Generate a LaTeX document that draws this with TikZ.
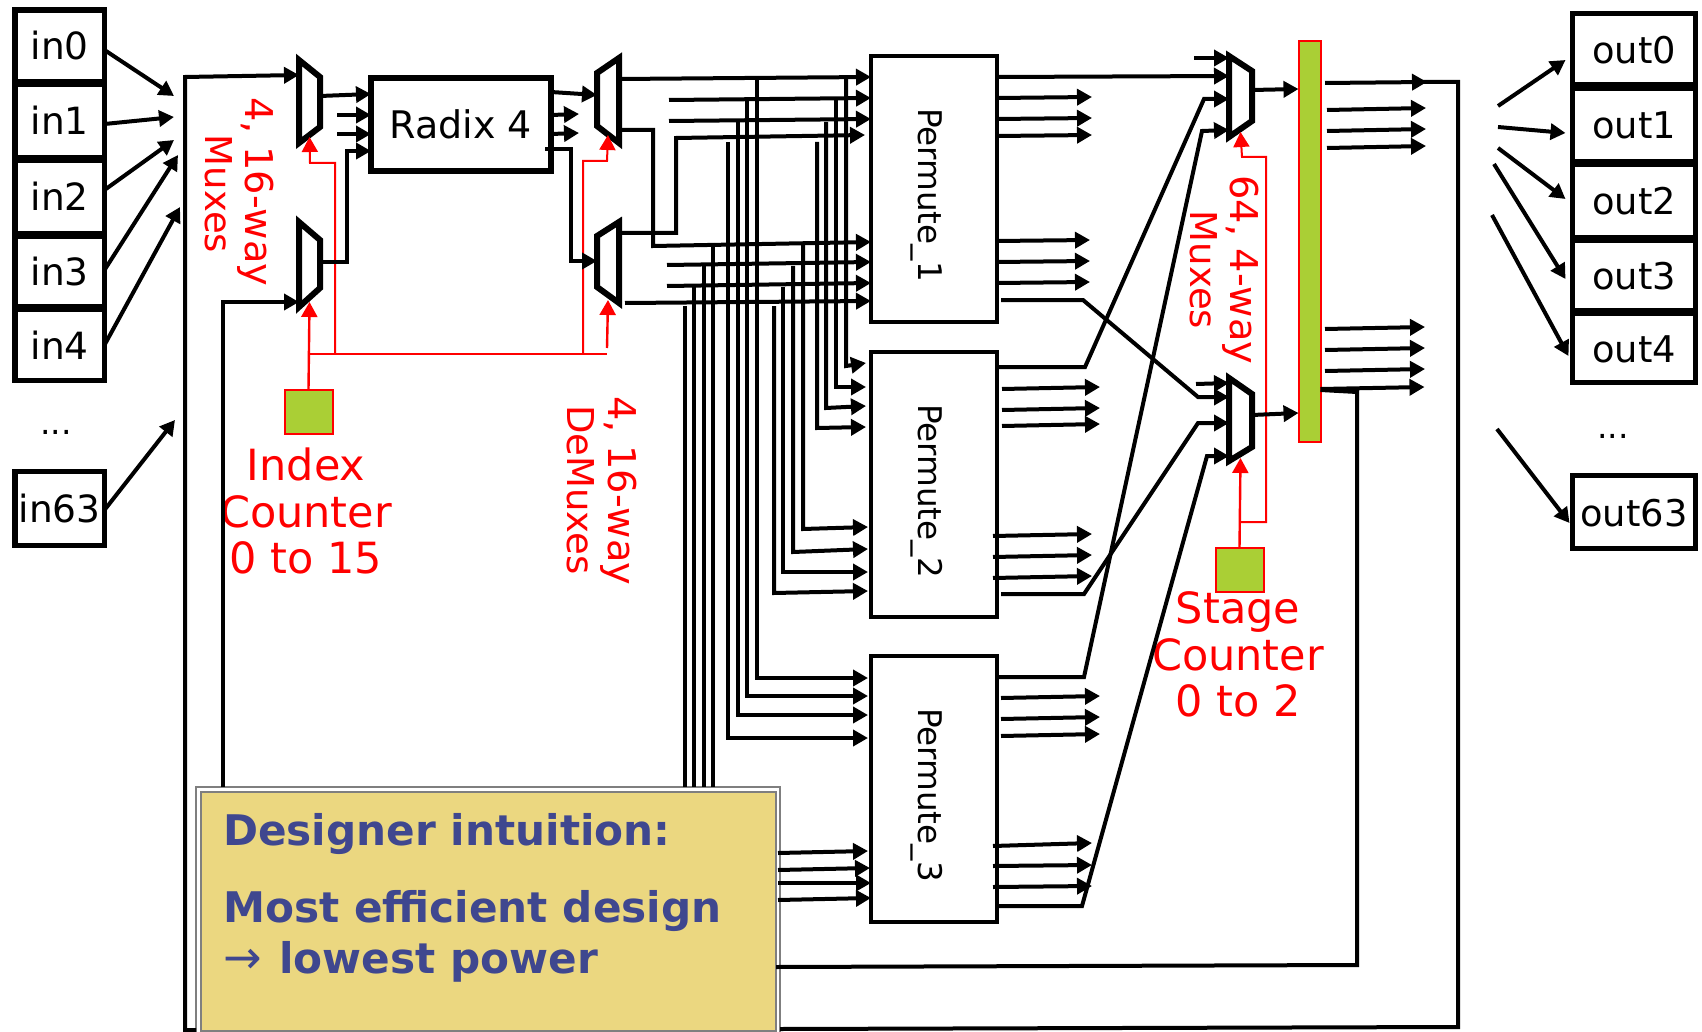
\documentclass[tikz,border=0pt]{standalone}
\usepackage{fontspec}
\setmainfont{DejaVu Sans}
\usetikzlibrary{arrows.meta}
\definecolor{barg}{HTML}{AACF35}
\definecolor{goldf}{HTML}{EBD780}
\definecolor{goldt}{HTML}{3F478F}
\definecolor{frameg}{HTML}{7F7F7F}
\newcommand\fsz[1]{\fontsize{#1}{#1}\selectfont}
\newcommand\muxframe[5]{\node[muxhit,minimum width={(#3-#2)*1pt},minimum height={(#5-#4)*1pt}] (#1) at ({(#2+#3)/2},{(#4+#5)/2}) {};}
\tikzset{
  sig/.style={line width=4pt},
  arr/.style={sig,-{Triangle[length=15pt,width=16pt]}},
  redsig/.style={line width=2pt,draw=red},
  redarr/.style={line width=2.4pt,draw=red,-{Triangle[length=15pt,width=16pt]},red},
  iobox/.style={draw,line width=5.8pt,fill=white,inner sep=0pt,outer sep=0pt,text height=28pt,text depth=0pt},
  permbox/.style={draw,line width=4pt,fill=white,inner sep=0pt,outer sep=0pt,minimum width=126pt},
  permtxt/.style={rotate=-90,anchor=base,inner sep=0pt,font=\fsz{32.6}},
  redrot/.style={rotate=-90,anchor=base,inner sep=0pt,red,font=\fsz{37}},
  redrotb/.style={rotate=-90,anchor=base,inner sep=0pt,red,font=\fsz{38.3}},
  redlab/.style={anchor=base,inner sep=0pt,red,font=\fsz{43}},
  counterbox/.style={draw=red,line width=2pt,fill=barg,inner sep=0pt,outer sep=0pt,minimum width=48pt,minimum height=44pt},
  muxhit/.style={inner sep=0pt,outer sep=0pt},
  muxline/.style={draw,line width=6pt,fill=white,line join=miter},
  dots/.style={anchor=base,inner sep=0pt,font=\fsz{33}},
  goldtxt/.style={anchor=base west,inner sep=0pt,goldt,font=\fsz{42.2}\bfseries},
}
\begin{document}
\begin{tikzpicture}[x=1pt,y=-1pt]
\useasboundingbox (0,0) rectangle (1702,1032);
\clip (0,0) rectangle (1702,1032);
% input boxes
\foreach \n/\t/\c/\h in {in0/in0/45.75/71.5,in1/in1/121/73,in2/in2/197/73,in3/in3/271.5/70,in4/in4/345/71,in63/in63/508.5/74}
  \node[iobox,font=\fsz{37.5},minimum width=89.5pt,minimum height=\h pt] (\n) at (59.75,\c) {\t};
% output boxes
\foreach \n/\t/\c/\h in {out0/out0/49.25/71.5,out1/out1/124.75/73.5,out2/out2/201/73,out3/out3/275.5/70,out4/out4/348/69,out63/out63/512/73}
  \node[iobox,font=\fsz{36.8},minimum width=123pt,minimum height=\h pt] (\n) at (1634,\c) {\t};
\node[dots] (dl) at (56,434) {...};
\node[dots] (dr) at (1613,438) {...};
% main blocks
\node[draw,line width=5.5pt,fill=white,inner sep=0pt,outer sep=0pt,minimum width=180pt,minimum height=93pt,font=\fsz{38}] (radix) at (461,124.5) {Radix 4};
\node[permbox,minimum height=266pt] (P1) at (934,189) {};
\node[permbox,minimum height=265pt] (P2) at (934,484.5) {};
\node[permbox,minimum height=266pt] (P3) at (934,789) {};
\node[permtxt] (P1t) at (918,195) {Permute\_1};
\node[permtxt] (P2t) at (918,491) {Permute\_2};
\node[permtxt] (P3t) at (918,795) {Permute\_3};
% output register bar
\node[draw=red,line width=2pt,fill=barg,inner sep=0pt,outer sep=0pt,minimum width=22pt,minimum height=400pt] (bar) at (1309.5,241.5) {};
% counters
\node[counterbox] (idx) at (308.5,412) {};
\node[counterbox] (stg) at (1239.5,569.5) {};
% gold note
\node[draw=frameg,line width=2pt,fill=white,inner sep=0pt,outer sep=0pt,minimum width=584pt,minimum height=260pt,anchor=north west] (goldframe) at (196,787) {};
\node[draw=frameg,line width=2pt,fill=goldf,inner sep=0pt,outer sep=0pt,minimum width=575pt,minimum height=239pt,anchor=north west] (gold) at (201,792) {};
\node[goldtxt] (g1) at (223,845) {Designer intuition:};
\node[goldtxt] (g2) at (223,922) {Most efficient design};
\node[goldtxt] (g3) at (223,973) {{\mdseries\fsz{46}→}\hspace{3pt} lowest power};
% labels
\node[redrotb] (l1a) at (245.5,192) {4, 16-way};
\node[redrot] (l1b) at (205.5,194) {Muxes};
\node[redrotb] (l2a) at (608,491) {4, 16-way};
\node[redrot] (l2b) at (567,490) {DeMuxes};
\node[redrotb] (l3a) at (1230,270) {64, 4-way};
\node[redrot] (l3b) at (1190,270) {Muxes};
\node[redlab] (i1) at (306,480) {Index};
\node[redlab] (i2) at (306,527) {Counter};
\node[redlab] (i3) at (306,573) {0 to 15};
\node[redlab] (s1) at (1238,623) {Stage};
\node[redlab] (s2) at (1238,670) {Counter};
\node[redlab] (s3) at (1238,716) {0 to 2};
% multiplexers
\muxframe{M1}{299}{320}{60}{143}
\muxframe{M3}{299}{320}{222}{307}
\muxframe{M2}{597}{619}{58}{143}
\muxframe{M4}{597}{619}{222}{303}
\muxframe{R1}{1229}{1252}{56}{137}
\muxframe{R2}{1229}{1252}{378}{461}
\draw[muxline] (M1.north west) -- (M1.east |- 0,77) -- (M1.east |- 0,127) -- (M1.south west) -- cycle;
\draw[muxline] (M3.north west) -- (M3.east |- 0,240) -- (M3.east |- 0,288) -- (M3.south west) -- cycle;
\draw[muxline] (M2.north east) -- (M2.west |- 0,73) -- (M2.west |- 0,126) -- (M2.south east) -- cycle;
\draw[muxline] (M4.north east) -- (M4.west |- 0,236) -- (M4.west |- 0,287) -- (M4.south east) -- cycle;
\draw[muxline] (R1.north west) -- (R1.east |- 0,71) -- (R1.east |- 0,121) -- (R1.south west) -- cycle;
\draw[muxline] (R2.north west) -- (R2.east |- 0,394) -- (R2.east |- 0,447) -- (R2.south west) -- cycle;
% red control lines
\draw[redarr] (idx.north) -- (M3.south |- 0,302);
\draw[redsig] (idx.north |- 0,354) -- (607,354) coordinate (idxr);
\draw[redarr,line width=2pt] (335,354) -- (335,163) -- (310,163) -- (M1.south |- 0,137);
\draw[redarr,line width=2pt] (583,353) -- (583,161) -- (607,161) -- (M2.south |- 0,135);
\draw[redarr] (idxr) ++(0,-6) -- (M4.south |- 0,300);
\draw[redarr] (stg.north) -- (R2.south |- 0,458);
\draw[redarr,line width=2pt] (stg.north |- 0,522) -- (1266,522) -- (1266,157) -- (1242,157) -- (R1.south |- 0,132);
% input fan
\draw[arr] (in0.east |- 0,50) -- (174,96);
\draw[arr] (in1.east |- 0,124) -- (174,117);
\draw[arr] (in2.east |- 0,190) -- (174,140);
\draw[arr] (in3.east |- 0,270) -- (178,155);
\draw[arr] (in4.east |- 0,345) -- (180,207);
\draw[arr] (in63.east |- 0,510) -- (175,420);
% output fan
\draw[arr] (1498,106) -- ([xshift=-7pt]out0.west |- 0,60);
\draw[arr] (1498,127) -- ([xshift=-7pt]out1.west |- 0,133);
\draw[arr] (1498,148) -- ([xshift=-7pt]out2.west |- 0,199);
\draw[arr] (1494,164) -- ([xshift=-7pt]out3.west |- 0,279);
\draw[arr] (1492,215) -- ([xshift=-4pt]out4.west |- 0,356);
\draw[arr] (1497,429) -- ([xshift=-3pt]out63.west |- 0,523);
% feedback and inputs of the left muxes
\draw[arr] (goldframe.west |- 0,1030) -- (185,1030) -- (185,77) -- (M1.west |- 0,75);
\draw[arr] (goldframe.north -| 222.5,0) -- (222.5,302) -- (M3.west |- 0,302);
% left muxes to radix
\draw[arr] (M1.east |- 0,96) -- (radix.west |- 0,94);
\draw[arr] (337,115) -- (radix.west |- 0,115);
\draw[arr] (337,134) -- (radix.west |- 0,134);
\draw[arr] (M3.east |- 0,262) -- (347,262) -- (347,151) -- (radix.west |- 0,151);
% radix to right muxes
\draw[arr] (radix.east |- 0,92) -- (M2.west |- 0,95);
\draw[arr] (radix.east |- 0,115) -- ++(28,-1);
\draw[arr] (radix.east |- 0,134) -- ++(28,-1);
\draw[arr] (545,149) -- (571,149) -- (571,261) -- (M4.west |- 0,261);
% demux outputs into Permute_1
\draw[arr] (M2.east |- 0,79) -- (P1.west |- 0,77);
\draw[arr] (M2.east |- 0,130) -- (653,130) -- (653,246) -- (P1.west |- 0,242);
\draw[arr] (M4.east |- 0,233) -- (676,233) -- (676,138) -- (865,135);
\draw[arr] (625,303) -- (P1.west |- 0,301);
\draw[arr] (669,100) -- (P1.west |- 0,98);
\draw[arr] (669,121) -- (P1.west |- 0,119);
\draw[arr] (667,265) -- (P1.west |- 0,262);
\draw[arr] (667,286) -- (P1.west |- 0,283);
% vertical buses
\foreach \x/\y in {685/306,694/287,704/266,713/243}
  \draw[sig] (\x,\y) -- (goldframe.north -| \x,0);
\foreach \x/\y/\b in {728/142/738,738/122/715,747/100/696,757/79/678}
  \draw[arr] (\x,\y) -- (\x,\b) -- ([xshift=-3pt]P3.west |- 0,\b);
\foreach \x/\y/\b/\e in {774/306/593/591,783/287/572/572,793/266/552/549,803/245/529/527}
  \draw[arr] (\x,\y) -- (\x,\b) -- ([xshift=-3pt]P2.west |- 0,\e);
\foreach \x/\y/\b/\e in {817/142/428/427,826/122/408/406,836/100/387/387,846/79/366/363}
  \draw[arr] (\x,\y) -- (\x,\b) -- ([xshift=-5pt]P2.west |- 0,\e);
% gold box to Permute_3
\draw[arr] ([xshift=2pt]gold.east |- 0,853) -- ([xshift=-3pt]P3.west |- 0,851);
\draw[arr] ([xshift=2pt]gold.east |- 0,870) -- ([xshift=-1pt]P3.west |- 0,868);
\draw[arr] ([xshift=2pt]gold.east |- 0,883) -- (P3.west |- 0,883);
\draw[arr] ([xshift=2pt]gold.east |- 0,900) -- (P3.west |- 0,898);
% Permute_1 outputs
\draw[arr] (P1.east |- 0,77) -- (R1.west |- 0,76);
\draw[arr] (1194,58) -- (R1.west |- 0,58);
\draw[arr] (P1.east |- 0,98) -- ++(95,-1);
\draw[arr] (P1.east |- 0,119) -- ++(95,-1);
\draw[arr] (P1.east |- 0,136) -- ++(95,-1);
\draw[arr] (P1.east |- 0,241) -- ++(93,-1);
\draw[arr] (P1.east |- 0,262) -- ++(93,-1);
\draw[arr] (P1.east |- 0,283) -- ++(93,-1);
\draw[arr] (1001,300) -- (1083,300) -- (1198,397) -- (R2.west |- 0,397);
% Permute_2 outputs
\draw[arr] (P2.east |- 0,367) -- (1085,367) -- (1204,99) -- (R1.west |- 0,99);
\draw[arr] (1002,389) -- ++(98,-2);
\draw[arr] (1002,410) -- ++(98,-2);
\draw[arr] (1002,426) -- ++(98,-2);
\draw[arr] (993,536) -- ++(99,-2);
\draw[arr] (993,557) -- ++(99,-2);
\draw[arr] (993,578) -- ++(99,-2);
\draw[arr] (1001,594) -- (1084,594) -- (1198,423) -- (R2.west |- 0,423);
% Permute_3 outputs
\draw[arr] (P3.east |- 0,677) -- (1084,677) -- (1202,131) -- (R1.west |- 0,130);
\draw[arr] (1001,698) -- ++(99,-2);
\draw[arr] (1001,719) -- ++(99,-2);
\draw[arr] (1001,736) -- ++(99,-2);
\draw[arr] (993,846) -- ++(99,-3);
\draw[arr] (993,866) -- ++(99,-1);
\draw[arr] (993,887) -- ++(99,-1);
\draw[arr] (P3.east |- 0,906) -- (1082,906) -- (1207,456) -- (R2.west |- 0,456);
\draw[arr] (1196,384) -- (R2.west |- 0,383);
% mux outputs to bar
\draw[arr] (R1.east |- 0,90) -- (bar.west |- 0,89);
\draw[arr] (R2.east |- 0,415) -- (bar.west |- 0,413);
% bar outputs
\draw[arr] (1325,83) -- ++(102,-1);
\draw[sig] (1420,82) -- (1458,82) -- (1458,1027) -- (goldframe.east |- 0,1029);
\draw[arr] (1327,110) -- ++(99,-2);
\draw[arr] (1327,131) -- ++(99,-2);
\draw[arr] (1327,148) -- ++(99,-2);
\draw[arr] (1325,329) -- ++(100,-2);
\draw[arr] (1325,350) -- ++(100,-2);
\draw[arr] (1325,371) -- ++(100,-2);
\draw[arr] (bar.east |- 0,389) -- ++(104,-2);
\draw[sig] (bar.east |- 0,390) -- (1357,392) -- (1357,965) -- (gold.east |- 0,967);
\end{tikzpicture}
\end{document}
